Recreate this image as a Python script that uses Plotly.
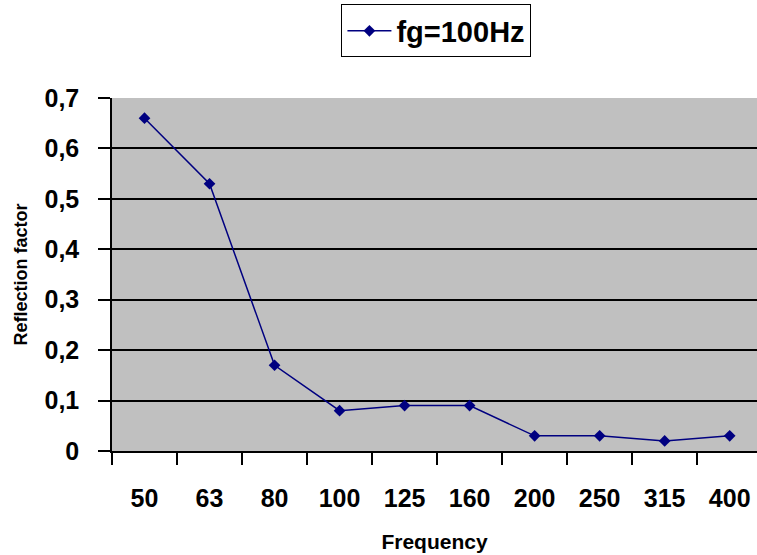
import plotly.graph_objects as go

categories = ["50", "63", "80", "100", "125", "160", "200", "250", "315", "400"]
reflection = [0.66, 0.53, 0.17, 0.08, 0.09, 0.09, 0.03, 0.03, 0.02, 0.03]
series_name = "fg=100Hz"
y_tick_vals = [0, 0.1, 0.2, 0.3, 0.4, 0.5, 0.6, 0.7]
y_tick_text = ["0", "0,1", "0,2", "0,3", "0,4", "0,5", "0,6", "0,7"]

FONT = "Liberation Sans, Arial, sans-serif"
NAVY = "#000080"

fig = go.Figure()
fig.add_trace(go.Scatter(
    x=categories, y=reflection, name=series_name, mode="lines+markers",
    line=dict(color=NAVY, width=1.5),
    marker=dict(symbol="diamond", size=9, color=NAVY),
    showlegend=True,
))

fig.update_layout(
    width=757, height=555,
    margin=dict(l=112, r=0, t=98, b=104),
    paper_bgcolor="white",
    plot_bgcolor="#C0C0C0",
    font=dict(family=FONT, color="black"),
    showlegend=True,
    legend=dict(
        x=0.503, y=1.19, xanchor="center", yanchor="middle",
        bordercolor="black", borderwidth=1, bgcolor="white",
        font=dict(family=FONT, size=29, color="black", weight="bold"),
        itemwidth=44,
    ),
    xaxis=dict(
        type="category", range=[-0.5, 9.42],
        tickson="boundaries", ticks="outside", ticklen=12, tickcolor="black", tickwidth=1.5,
        showline=True, linecolor="black", linewidth=1.5, showgrid=False,
        tickfont=dict(family=FONT, size=25, color="black", weight="bold"),
        ticklabelstandoff=24,
        title=dict(text="Frequency", font=dict(family=FONT, size=21, color="black", weight="bold"), standoff=24),
        automargin=False,
    ),
    yaxis=dict(
        range=[0, 0.7], tickvals=y_tick_vals, ticktext=y_tick_text,
        ticks="outside", ticklen=12, tickcolor="black", tickwidth=1.5,
        showline=True, linecolor="black", linewidth=1.5,
        showgrid=True, gridcolor="black", gridwidth=1.5, zeroline=False,
        tickfont=dict(family=FONT, size=25, color="black", weight="bold"),
        ticklabelstandoff=14,
        title=dict(text="Reflection factor", font=dict(family=FONT, size=18, color="black", weight="bold"), standoff=12),
        automargin=False,
    ),
)

fig.write_html("out.html")
